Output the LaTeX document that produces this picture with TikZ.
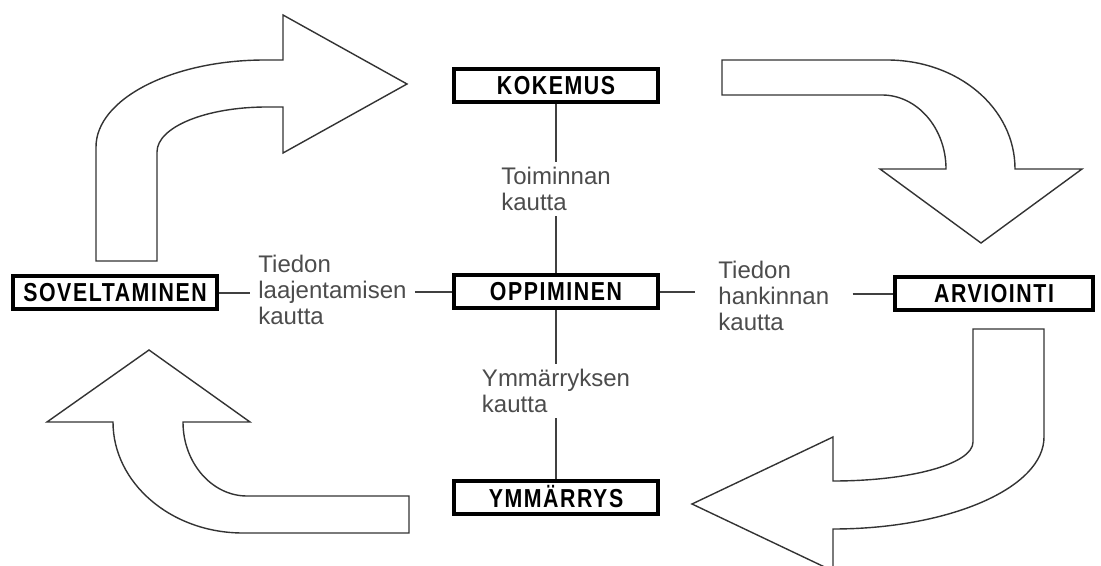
\documentclass[tikz,border=0pt]{standalone}
\usepackage{fontspec}
\setmainfont{Liberation Sans}
\newfontfamily\stagefont{Liberation Sans}[FakeStretch=0.82, LetterSpace=6]
\usepackage{tikz}
\usetikzlibrary{shapes,arrows,positioning,calc}

\begin{document}
\begin{tikzpicture}[x=0.5pt,y=-0.5pt,
	stage/.style={draw, line width=2pt, fill=white, minimum width=102pt, minimum height=16.5pt, inner sep=0pt, font=\stagefont\bfseries\fontsize{13}{15}\selectfont},
	via/.style={align=left, text=black!70, font=\fontsize{12}{13}\selectfont, inner ysep=2.5pt},
	link/.style={draw=black!75, line width=1pt},
	bigarrow/.style={draw=black!80, line width=0.7pt, fill=white}]
	\useasboundingbox[fill=white] (0,0) rectangle (1101,566);
	% the four curved arrows of the cycle
	\draw[bigarrow] (96,261) -- (96,147) .. controls (96,99) and (172,60) .. (265,60) -- (283,60) -- (283,15) -- (407,84) -- (283,153) -- (283,107) -- (267,107) .. controls (206,107) and (157,127) .. (157,152) -- (157,261) -- cycle;
	\draw[bigarrow] (722,60) -- (887,60) .. controls (958,60) and (1015,108) .. (1015,169) -- (1082,169) -- (981,243) -- (880,169) -- (946,169) .. controls (946,128) and (917,95) .. (882,95) -- (722,95) -- cycle;
	\draw[bigarrow] (973,329) -- (1044,329) -- (1044,437) .. controls (1044,488) and (949,529) .. (833,529) -- (833,571) -- (692,504) -- (833,437) -- (833,481) .. controls (910,481) and (973,464) .. (973,442) -- cycle;
	\draw[bigarrow] (409,533) -- (243,533) .. controls (171,533) and (113,483) .. (113,422) -- (47,422) -- (149,350) -- (250,422) -- (183,422) .. controls (183,463) and (212,496) .. (247,496) -- (409,496) -- cycle;
	% boxes
	\node[stage] (kokemus) at (556,86) {KOKEMUS};
	\node[stage] (oppi) at (556,292) {OPPIMINEN};
	\node[stage] (ymm) at (556,497) {YMMÄRRYS};
	\node[stage] (sovel) at (115,293) {SOVELTAMINEN};
	\node[stage, minimum width=99pt] (arvio) at (994,294) {ARVIOINTI};
	% labels on the links
	\node[via] (toim) at (556,189) {Toiminnan\\kautta};
	\node[via] (ymmk) at (556,391) {Ymmärryksen\\kautta};
	\node[via, anchor=west, inner xsep=4pt] (laaj) at (250,290) {Tiedon\\laajentamisen\\kautta};
	\node[via, anchor=west, inner xsep=11.5pt] (hank) at (695,296) {Tiedon\\hankinnan\\kautta};
	% links
	\draw[link] (kokemus) -- (kokemus |- toim.north);
	\draw[link] (toim.south -| oppi) -- (oppi);
	\draw[link] (oppi) -- (oppi |- ymmk.north);
	\draw[link] (ymmk.south -| ymm) -- (ymm);
	\draw[link] (sovel) -- (laaj.west |- sovel);
	\draw[link] (laaj.east |- oppi) -- (oppi);
	\draw[link] (oppi) -- (hank.west |- oppi);
	\draw[link] (hank.east |- arvio) -- (arvio);
\end{tikzpicture}
\end{document}
